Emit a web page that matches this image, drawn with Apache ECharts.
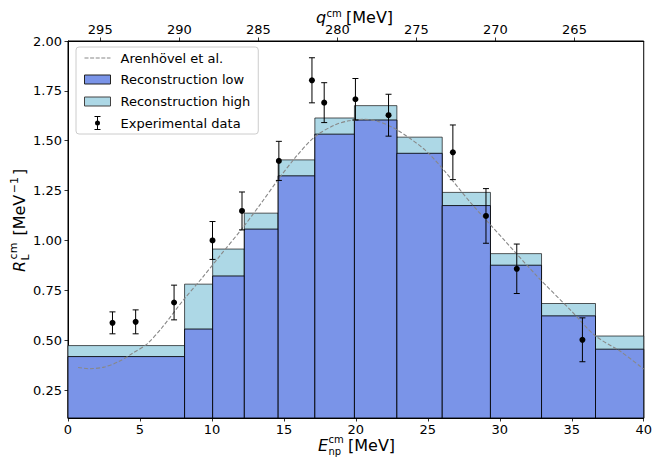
<!DOCTYPE html>
<html>
<head>
<meta charset="utf-8">
<script src="https://cdn.jsdelivr.net/npm/echarts@6/dist/echarts.min.js"></script>
<style>html,body{margin:0;padding:0;background:#fff}#chart{width:655px;height:460px}</style>
</head>
<body>
<div id="chart"></div>
<script>
// ---- data ----
const E_EDGES   = [0, 8.1, 10.05, 12.25, 14.6, 17.15, 19.9, 22.85, 26.0, 29.35, 32.9, 36.65, 40];
const RECO_LOW  = [0.418, 0.556, 0.822, 1.057, 1.324, 1.533, 1.604, 1.437, 1.175, 0.876, 0.622, 0.455];
const RECO_HIGH = [0.473, 0.781, 0.957, 1.137, 1.404, 1.614, 1.676, 1.518, 1.241, 0.934, 0.684, 0.521];

const EXP_E   = [3.09, 4.70, 7.37, 10.04, 12.09, 14.65, 16.95, 17.8, 19.97, 22.27, 26.74, 29.04, 31.18, 35.74];
const EXP_R   = [0.587, 0.592, 0.689, 1.0, 1.148, 1.399, 1.803, 1.691, 1.708, 1.628, 1.442, 1.123, 0.858, 0.502];
const EXP_ERR = [0.055, 0.06, 0.087, 0.095, 0.095, 0.098, 0.113, 0.10, 0.104, 0.105, 0.137, 0.137, 0.124, 0.11];

const THEORY_E = [0.7, 1.5, 2.5, 3.5, 4.5, 5.5, 6.5, 8, 9.35, 10.5, 12.1, 13.4, 14.65, 15.9, 17.15, 18.5, 19.5, 20.5, 21.5, 22.8, 24.8, 26.2, 28, 30.3, 32.6, 34.9, 36.6, 38.4, 40];
const THEORY_R = [0.363, 0.357, 0.365, 0.392, 0.435, 0.482, 0.56, 0.70, 0.815, 0.918, 1.06, 1.185, 1.31, 1.425, 1.52, 1.578, 1.600, 1.607, 1.598, 1.557, 1.454, 1.345, 1.187, 1.003, 0.82, 0.652, 0.524, 0.443, 0.355];

const Y_TICKS = [0.25, 0.5, 0.75, 1.0, 1.25, 1.5, 1.75, 2.0];
const Q_TICKS = [295, 290, 285, 280, 275, 270, 265];
const Y_MIN = 0.11, Y_MAX = 2.0;
const X_MIN = 0, X_MAX = 40;
const Q_AT_XMIN = 297.04, Q_AT_XMAX = 260.62;

// ---- build ----
const binRows = RECO_LOW.map((v, i) => [E_EDGES[i], E_EDGES[i + 1], v, RECO_HIGH[i]]);
const expRows = EXP_E.map((e, i) => [e, EXP_R[i], EXP_ERR[i]]);
const theoryRows = THEORY_E.map((e, i) => [e, THEORY_R[i]]);

const FONT = '"DejaVu Sans", sans-serif';
const LOW_COLOR = '#7a94e8';
const HIGH_COLOR = '#add8e6';
const THEORY_COLOR = '#888888';

function barRenderer(idx, fill, stroke) {
  return function (params, api) {
    const p0 = api.coord([api.value(0), api.value(idx)]);
    const p1 = api.coord([api.value(1), Y_MIN]);
    return {
      type: 'rect',
      shape: { x: p0[0], y: p0[1], width: p1[0] - p0[0], height: p1[1] - p0[1] },
      style: { fill: fill, stroke: stroke, lineWidth: 1 }
    };
  };
}

function errRenderer(params, api) {
  const x = api.value(0), y = api.value(1), e = api.value(2);
  const pc = api.coord([x, y]);
  const pt = api.coord([x, y + e]);
  const pb = api.coord([x, y - e]);
  const cap = 3;
  const st = { stroke: '#000', lineWidth: 1 };
  return {
    type: 'group',
    children: [
      { type: 'line', shape: { x1: pt[0], y1: pt[1], x2: pb[0], y2: pb[1] }, style: st },
      { type: 'line', shape: { x1: pt[0] - cap, y1: pt[1], x2: pt[0] + cap, y2: pt[1] }, style: st },
      { type: 'line', shape: { x1: pb[0] - cap, y1: pb[1], x2: pb[0] + cap, y2: pb[1] }, style: st },
      { type: 'circle', shape: { cx: pc[0], cy: pc[1], r: 3 }, style: { fill: '#000' } }
    ]
  };
}

// text measurement for the rotated y title
const mctx = document.createElement('canvas').getContext('2d');
function tw(font, s) { mctx.font = font; return mctx.measureText(s).width; }
const F16 = '16px ' + FONT, F16I = 'italic 16px ' + FONT, F11 = '11px ' + FONT, F10 = '10px ' + FONT;
function txt(s, font, x, y) {
  return { type: 'text', x: x, y: y, silent: true,
    style: { text: s, font: font, fill: '#000', align: 'left', verticalAlign: 'middle', textAlign: 'left', textVerticalAlign: 'middle' } };
}
const wR = tw(F16I, 'R');
const wSS = Math.max(tw(F11, 'cm'), tw(F11, 'L'));
const xMeV = wR + 1.5 + wSS + tw(F16, ' ') + 2;
const xSup = xMeV + tw(F16, '[MeV') + 1.5;
const xBr = xSup + tw(F11, '−1') + 2;
const yTitleChildren = [
  txt('R', F16I, 0, -5.5),
  txt('cm', F11, wR + 1.5, -11.2),
  txt('L', F11, wR + 0.5, 0.6),
  txt('[MeV', F16, xMeV, -5.5),
  txt('−1', F11, xSup, -10.6),
  txt(']', F16, xBr, -5.5)
];

const legendRect = 'path://M0,0M26,14M0,2.5h26v9h-26z';
const legendErr = 'path://M0,0M26,14M10,0h6v1h-6zM10,13h6v1h-6zM12.5,0h1v14h-1zM15.5,7a2.5,2.5 0 1 1 -5,0a2.5,2.5 0 1 1 5,0z';
const legendDash = 'path://M0,0M26,14M0,6.5h4v1.1h-4zM5.6,6.5h4v1.1h-4zM11.2,6.5h4v1.1h-4zM16.8,6.5h4v1.1h-4zM22.4,6.5h3.6v1.1h-3.6z';

const axisCommon = {
  axisLine: { show: true, onZero: false, lineStyle: { color: '#000', width: 1 } },
  axisTick: { show: true, length: 3.5, lineStyle: { color: '#000', width: 0.8 } },
  splitLine: { show: false }
};

const option = {
  animation: false,
  textStyle: { fontFamily: FONT },
  grid: { left: 68, right: 8, top: 41, bottom: 42, show: true, borderColor: '#000', borderWidth: 1, backgroundColor: 'rgba(0,0,0,0)' },
  xAxis: [
    Object.assign({}, axisCommon, {
      type: 'value', position: 'bottom', min: X_MIN, max: X_MAX, interval: 5,
      axisLabel: { color: '#000', fontSize: 13, margin: 5, fontFamily: FONT }
    }),
    Object.assign({}, axisCommon, {
      type: 'value', position: 'top', inverse: true, min: Q_AT_XMAX, max: Q_AT_XMIN,
      axisTick: { show: true, length: 3.5, customValues: Q_TICKS, lineStyle: { color: '#000', width: 0.8 } },
      axisLabel: { color: '#000', fontSize: 13, margin: 5, fontFamily: FONT, customValues: Q_TICKS, formatter: v => String(v) }
    })
  ],
  yAxis: Object.assign({}, axisCommon, {
    type: 'value', min: Y_MIN, max: Y_MAX,
    axisTick: { show: true, length: 3.5, customValues: Y_TICKS, lineStyle: { color: '#000', width: 0.8 } },
    axisLabel: { color: '#000', fontSize: 13, margin: 6, fontFamily: FONT, customValues: Y_TICKS, formatter: v => v.toFixed(2) }
  }),
  legend: {
    orient: 'vertical', left: 76, top: 47,
    padding: [4, 8, 4, 8], itemGap: 7, itemWidth: 26, itemHeight: 14,
    backgroundColor: 'rgba(255,255,255,0.8)', borderColor: '#cccccc', borderWidth: 1, borderRadius: 3,
    textStyle: { color: '#000', fontSize: 13, fontFamily: FONT, padding: [0, 0, 0, 5] },
    data: [
      { name: 'Arenhövel et al.', icon: legendDash, itemStyle: { color: THEORY_COLOR, borderWidth: 0 } },
      { name: 'Reconstruction low', icon: legendRect, itemStyle: { color: LOW_COLOR, borderColor: '#222', borderWidth: 1 } },
      { name: 'Reconstruction high', icon: legendRect, itemStyle: { color: HIGH_COLOR, borderColor: '#444', borderWidth: 1 } },
      { name: 'Experimental data', icon: legendErr, itemStyle: { color: '#000', borderWidth: 0 } }
    ]
  },
  series: [
    { type: 'custom', name: 'Reconstruction high', data: binRows, encode: { x: [0, 1], y: [3] },
      itemStyle: { color: HIGH_COLOR }, renderItem: barRenderer(3, HIGH_COLOR, 'rgba(0,0,0,0.65)'), z: 1 },
    { type: 'custom', name: 'Reconstruction low', data: binRows, encode: { x: [0, 1], y: [2] },
      itemStyle: { color: LOW_COLOR }, renderItem: barRenderer(2, LOW_COLOR, 'rgba(0,0,0,0.85)'), z: 2 },
    { type: 'line', name: 'Arenhövel et al.', data: theoryRows, symbol: 'none', smooth: 0.3,
      lineStyle: { color: THEORY_COLOR, width: 1.1, type: [4, 2] }, itemStyle: { color: THEORY_COLOR }, z: 3 },
    { type: 'custom', name: 'Experimental data', data: expRows, encode: { x: 0, y: 1 },
      itemStyle: { color: '#000' }, renderItem: errRenderer, z: 4 }
  ],
  graphic: [
    // bottom axis title
    txt('E', F16I, 318, 445.8),
    txt('cm', F10, 328.5, 439.4),
    txt('np', F10, 328.5, 451.2),
    txt('[MeV]', F16, 348, 445.8),
    // top axis title
    txt('q', F16I, 316, 17.2),
    txt('cm', F10, 326.5, 13.2),
    txt('[MeV]', F16, 346, 17.2),
    // left axis title (rotated)
    { type: 'group', x: 25, y: 272, rotation: Math.PI / 2, children: yTitleChildren }
  ]
};

const chart = echarts.init(document.getElementById('chart'), null, { renderer: 'svg' });
chart.setOption(option);
</script>
</body>
</html>
